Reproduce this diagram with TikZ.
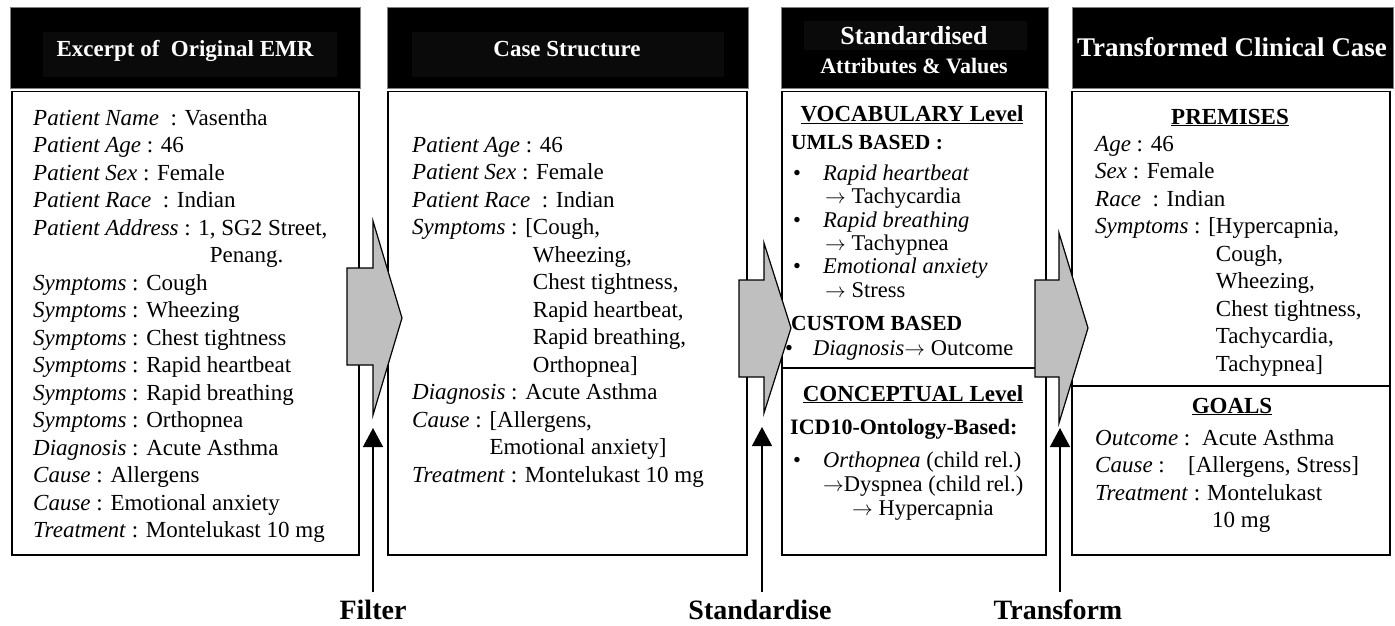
\documentclass[tikz,border=0pt]{standalone}
\usepackage{fontspec}
\setmainfont{Liberation Serif}
\usetikzlibrary{arrows.meta}
\newcommand\Tline[4]{\node[txt] (#1) at (#2,#3) {#4};}
\begin{document}
\begin{tikzpicture}[x=1pt,y=-1pt,
  hdr/.style={fill=black,draw=black!50,line width=1},
  hin/.style={fill=black!96,draw=none},
  body/.style={draw=black,line width=1.6,fill=white},
  htxt/.style={text=white,anchor=base,inner sep=0,font=\bfseries\fontsize{23}{27}\selectfont},
  txt/.style={anchor=base west,inner sep=0,font=\fontsize{23}{27.5}\selectfont},
  vtxt/.style={txt,font=\fontsize{22.5}{23.5}\selectfont},
  sub/.style={txt,font=\bfseries\fontsize{21.5}{26}\selectfont},
  sub2/.style={txt,font=\bfseries\fontsize{22}{26}\selectfont},
  bigarrow/.style={fill=black!25,draw=black,line width=1.2,line join=miter},
  vline/.style={draw=black,line width=1.4,-{Triangle[width=20pt,length=19pt]}},
  lab/.style={anchor=base,inner sep=0,font=\bfseries\fontsize{28}{30}\selectfont}
]
\useasboundingbox (0,0) rectangle (1395,625);

% headers
\draw[hdr] (10,7) rectangle (360,88);
\fill[hin] (43,32) rectangle (337,77);
\draw[hdr] (387,7) rectangle (748,88);
\fill[hin] (412,32) rectangle (724,77);
\draw[hdr] (781,7) rectangle (1048,88);
\fill[hin] (804,21) rectangle (1027,50);
\draw[hdr] (1072,7) rectangle (1393,88);

\node[htxt] (h1) at (185,56.5) {Excerpt of\ \ Original EMR};
\node[htxt] (h2) at (567,56.5) {Case Structure};
\node[htxt,font=\bfseries\fontsize{26}{28}\selectfont] (h3a) at (914,44.5) {Standardised};
\node[htxt,font=\bfseries\fontsize{22}{24}\selectfont] (h3b) at (914,73) {Attributes \& Values};
\node[htxt,font=\bfseries\fontsize{27}{29}\selectfont] (h4) at (1232,56) {Transformed Clinical Case};

% bodies
\draw[body] (12,91.5) rectangle (359,555);
\draw[body] (388,91.5) rectangle (747,555);
\draw[body] (782,91.5) rectangle (1046,555);
\draw[body] (1072,91.5) rectangle (1390,555);
\draw[line width=1.6] (782,368) -- (1046,368);
\draw[line width=1.6] (1072,386) -- (1390,386);

% box 1
\node[txt] (t1) at (33,125) {\begin{tabular}[t]{@{}l@{}}
\textit{Patient Name}\ \ : Vasentha\\
\textit{Patient Age} : 46\\
\textit{Patient Sex} : Female\\
\textit{Patient Race}\ \ : Indian\\
\textit{Patient Address} : 1, SG2 Street,\\
\phantom{\textit{Patient Address} : 1}Penang.\\
\textit{Symptoms} : Cough\\
\textit{Symptoms} : Wheezing\\
\textit{Symptoms} : Chest tightness\\
\textit{Symptoms} : Rapid heartbeat\\
\textit{Symptoms} : Rapid breathing\\
\textit{Symptoms} : Orthopnea\\
\textit{Diagnosis} : Acute Asthma\\
\textit{Cause} : Allergens\\
\textit{Cause} : Emotional anxiety\\
\textit{Treatment} : Montelukast 10 mg
\end{tabular}};

% box 2
\node[txt] (t2) at (412,152) {\begin{tabular}[t]{@{}l@{}}
\textit{Patient Age} : 46\\
\textit{Patient Sex} : Female\\
\textit{Patient Race}\ \ : Indian\\
\textit{Symptoms} : [Cough,\\
\phantom{\textit{Symptoms} : [}Wheezing,\\
\phantom{\textit{Symptoms} : [}Chest tightness,\\
\phantom{\textit{Symptoms} : [}Rapid heartbeat,\\
\phantom{\textit{Symptoms} : [}Rapid breathing,\\
\phantom{\textit{Symptoms} : [}Orthopnea]\\
\textit{Diagnosis} : Acute Asthma\\
\textit{Cause} : [Allergens,\\
\phantom{\textit{Cause} : }Emotional anxiety]\\
\textit{Treatment} : Montelukast 10 mg
\end{tabular}};

% box 3
\node[txt,anchor=base] (voc) at (912,121) {\underline{\textbf{VOCABULARY Level}}};
\node[sub] (umls) at (791,149) {UMLS BASED :};
\node[vtxt] (bu1) at (793,180) {\textbullet};
\node[vtxt] (rh) at (823,180) {\textit{Rapid heartbeat}};
\node[vtxt] (tc) at (825,203.5) {$\rightarrow$ Tachycardia};
\node[vtxt] (bu2) at (793,227) {\textbullet};
\node[vtxt] (rb) at (823,227) {\textit{Rapid breathing}};
\node[vtxt] (tp) at (825,250.5) {$\rightarrow$ Tachypnea};
\node[vtxt] (bu3) at (793,273.5) {\textbullet};
\node[vtxt] (ea) at (823,273.5) {\textit{Emotional anxiety}};
\node[vtxt] (st) at (825,297) {$\rightarrow$ Stress};
\node[sub] (cust) at (791,330) {CUSTOM BASED};
\node[vtxt] (bu4) at (785,355) {\textbullet};
\node[vtxt] (dg) at (813,355) {\textit{Diagnosis}$\rightarrow$ Outcome};
\node[txt,anchor=base] (conc) at (913,401) {\underline{\textbf{CONCEPTUAL Level}}};
\node[sub2] (icd) at (790,434) {ICD10-Ontology-Based:};
\node[vtxt] (bu5) at (793,467) {\textbullet};
\node[vtxt] (orth) at (823,467) {\textit{Orthopnea} (child rel.)};
\node[vtxt] (dysp) at (823,491) {$\rightarrow$Dyspnea (child rel.)};
\node[vtxt] (hyp) at (852,515) {$\rightarrow$ Hypercapnia};

% box 4
\node[txt,anchor=base] (prem) at (1230,124) {\underline{\textbf{PREMISES}}};
\node[txt] (t4) at (1095,151) {\begin{tabular}[t]{@{}l@{}}
\textit{Age} : 46\\
\textit{Sex} : Female\\
\textit{Race}\ \ : Indian\\
\textit{Symptoms} : [Hypercapnia,\\
\phantom{\textit{Symptoms} : [}Cough,\\
\phantom{\textit{Symptoms} : [}Wheezing,\\
\phantom{\textit{Symptoms} : [}Chest tightness,\\
\phantom{\textit{Symptoms} : [}Tachycardia,\\
\phantom{\textit{Symptoms} : [}Tachypnea]
\end{tabular}};
\node[txt,anchor=base] (goals) at (1232,413) {\underline{\textbf{GOALS}}};
\Tline{oc}{1095}{445}{\textit{Outcome} :}
\Tline{ocv}{1202}{445}{Acute Asthma}
\Tline{ca}{1095}{472.5}{\textit{Cause} :}
\Tline{cav}{1188}{472.5}{[Allergens, Stress]}
\Tline{tr}{1095}{500}{\textit{Treatment} :}
\Tline{trv}{1207}{500}{Montelukast}
\Tline{mg}{1212}{527.5}{10 mg}

% big gray arrows
\draw[bigarrow] (347,268) -- (373,268) -- (373,221) -- (402,318) -- (373,415) -- (373,365) -- (347,365) -- cycle;
\draw[bigarrow] (739,280) -- (764,280) -- (764,243) -- (791,328) -- (764,413) -- (764,377) -- (739,377) -- cycle;
\draw[bigarrow] (1035,280) -- (1059,280) -- (1059,233) -- (1088,328) -- (1059,423) -- (1059,377) -- (1035,377) -- cycle;

% labels and vertical arrows
\node[lab] (flt) at (373,619) {Filter};
\node[lab] (std) at (760,619) {Standardise};
\node[lab] (trf) at (1058,619) {Transform};
\coordinate (tipF) at (373,428);
\coordinate (tipS) at (762,427);
\coordinate (tipT) at (1060,428);
\draw[vline,shorten <=7pt] (flt.north -| tipF) -- (tipF);
\draw[vline,shorten <=7pt] (std.north -| tipS) -- (tipS);
\draw[vline,shorten <=7pt] (trf.north -| tipT) -- (tipT);
\end{tikzpicture}
\end{document}
